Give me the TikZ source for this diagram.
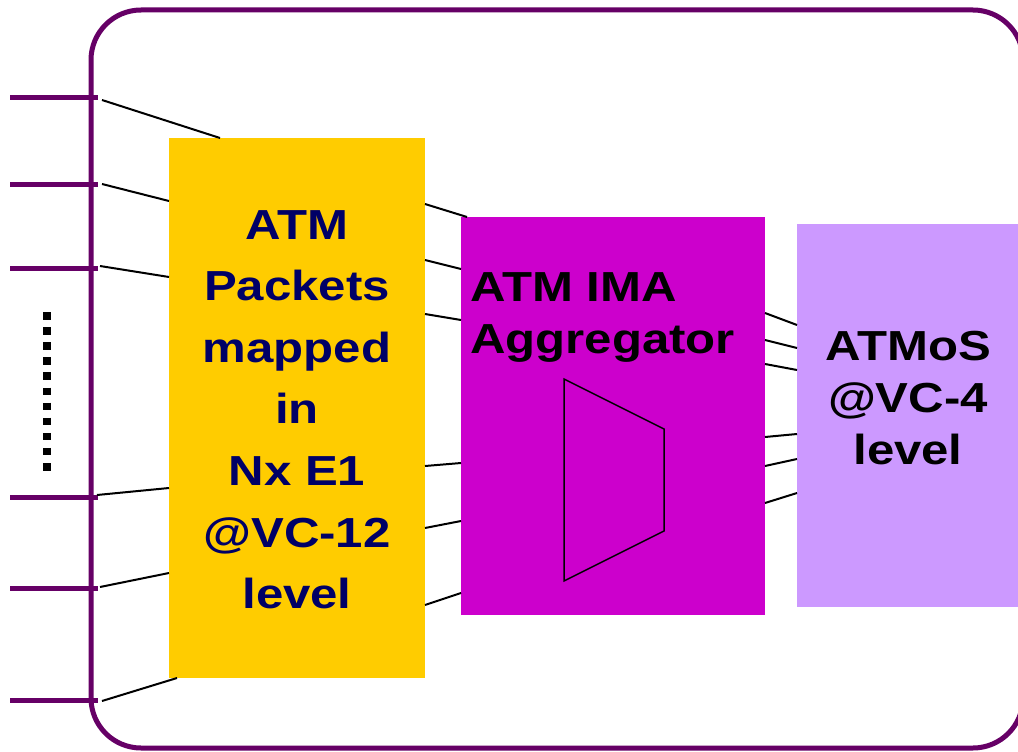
\documentclass[tikz,border=0pt]{standalone}
\usepackage{fontspec}
\newfontfamily\wsans[FakeStretch=1.17]{Liberation Sans}
\definecolor{outerc}{HTML}{660066}
\definecolor{yelc}{HTML}{FFCC00}
\definecolor{magc}{HTML}{CC00CC}
\definecolor{lavc}{HTML}{CC99FF}
\definecolor{navyc}{HTML}{000066}
\tikzset{
  blockbox/.style={inner sep=0pt, outer sep=0pt, anchor=north west, draw=none},
  conn/.style={line width=2pt, black},
  tickline/.style={line width=5pt, outerc},
  lbl/.style={inner sep=0pt, font=\wsans\bfseries\fontsize{42}{52}\selectfont},
}
\begin{document}
\begin{tikzpicture}[x=1pt,y=-1pt]
\useasboundingbox (0,0) rectangle (1018,752);
\clip (0,0) rectangle (1018,752);
\fill[white] (0,0) rectangle (1018,752);
% outer frame
\draw[outerc, line width=5pt, rounded corners=50pt] (91,10) rectangle (1023,748);
% ticks
\foreach \y in {98,184,268,497,588,700} \draw[tickline] (10,\y) -- (98,\y);
% dotted
\draw[line width=7.5pt, dash pattern=on 7.5pt off 7.6pt] (47,312) -- (47,471);
% boxes
\node[blockbox, fill=yelc, minimum width=256pt, minimum height=540pt] (yel) at (169,138) {};
\node[blockbox, fill=magc, minimum width=304pt, minimum height=398pt] (mag) at (461,217) {};
\node[blockbox, fill=lavc, minimum width=225pt, minimum height=383pt] (lav) at (797,224) {};
% tick end coordinates
\coordinate (t1) at (102,100);
\coordinate (t2) at (102,184);
\coordinate (t3) at (100,266);
\coordinate (t4) at (97,495);
\coordinate (t5) at (100,587);
\coordinate (t6) at (102,701);
% connectors into yellow
\draw[conn] (t1) -- ([xshift=51pt]yel.north west);
\draw[conn] (t2) -- ([yshift=-63pt]yel.north west);
\draw[conn] (t3) -- ([yshift=-139pt]yel.north west);
\draw[conn] (t4) -- ([yshift=-350pt]yel.north west);
\draw[conn] (t5) -- ([yshift=-435pt]yel.north west);
\draw[conn] (t6) -- ([xshift=8pt]yel.south west);
% yellow to magenta
\draw[conn] ([yshift=-66pt]yel.north east) -- ([xshift=6pt]mag.north west);
\draw[conn] ([yshift=-122pt]yel.north east) -- ([yshift=-52pt]mag.north west);
\draw[conn] ([yshift=-176pt]yel.north east) -- ([yshift=-103pt]mag.north west);
\draw[conn] ([yshift=-328pt]yel.north east) -- ([yshift=-246pt]mag.north west);
\draw[conn] ([yshift=-390pt]yel.north east) -- ([yshift=-304pt]mag.north west);
\draw[conn] ([yshift=-467pt]yel.north east) -- ([yshift=-376pt]mag.north west);
% magenta to lavender
\draw[conn] ([yshift=-96pt]mag.north east) -- ([yshift=-101pt]lav.north west);
\draw[conn] ([yshift=-123pt]mag.north east) -- ([yshift=-124pt]lav.north west);
\draw[conn] ([yshift=-147pt]mag.north east) -- ([yshift=-146pt]lav.north west);
\draw[conn] ([yshift=-220pt]mag.north east) -- ([yshift=-210pt]lav.north west);
\draw[conn] ([yshift=-249pt]mag.north east) -- ([yshift=-235pt]lav.north west);
\draw[conn] ([yshift=-286pt]mag.north east) -- ([yshift=-269pt]lav.north west);
% trapezoid
\draw[line width=1.5pt, black, line join=miter] (564,379) -- (664,429) -- (664,531) -- (564,581) -- cycle;
% labels
\node[lbl, text=navyc, align=center, anchor=north, font=\wsans\bfseries\fontsize{42}{61.6}\selectfont] (ytext) at (297,210)
  {ATM\\Packets\\mapped\\in\\Nx E1\\@VC-12\\level};
\node[lbl, text=black, align=left, anchor=north west] (mtext) at (470,272)
  {ATM IMA\\Aggregator};
\node[lbl, text=black, align=center, anchor=north] (ltext) at (908,331)
  {ATMoS\\@VC-4\\level};
\end{tikzpicture}
\end{document}
